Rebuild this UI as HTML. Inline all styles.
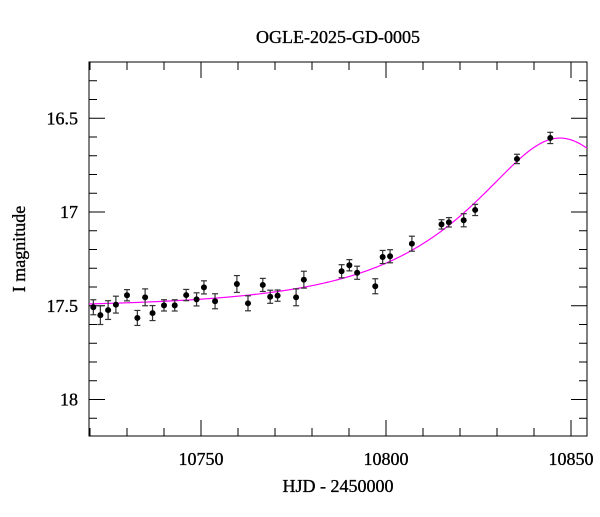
<!DOCTYPE html>
<html><head><meta charset="utf-8"><style>
html,body{margin:0;padding:0;background:#fff;}
svg text{font-family:"Liberation Serif",serif;fill:#000;stroke:#000;stroke-width:0.35;}
</style></head><body>
<svg width="600" height="512" xmlns="http://www.w3.org/2000/svg">
<text x="338" y="43" font-size="18" text-anchor="middle">OGLE-2025-GD-0005</text>
<text x="338" y="492" font-size="18" text-anchor="middle">HJD - 2450000</text>
<text transform="translate(25,249) rotate(-90)" font-size="18" text-anchor="middle">I magnitude</text>
<rect x="89" y="62" width="498" height="374" fill="none" stroke="#000" stroke-width="1"/>
<g id="ticks"></g>
<g id="model"></g>
<g id="points"></g>
</svg>
<script>
const times=[10720.9,10722.8,10724.9,10727.0,10730.0,10732.8,10734.9,10736.9,10740.0,10742.9,10746.0,10748.8,10750.8,10753.8,10759.7,10762.7,10766.7,10768.7,10770.7,10775.7,10777.8,10788.0,10790.1,10792.2,10797.1,10799.1,10801.1,10807.0,10815.0,10817.0,10821.0,10824.1,10835.4,10844.4];
const mags=[17.508,17.55,17.523,17.494,17.444,17.565,17.455,17.539,17.498,17.498,17.443,17.466,17.402,17.476,17.384,17.487,17.389,17.452,17.446,17.455,17.361,17.316,17.284,17.324,17.396,17.24,17.236,17.169,17.066,17.055,17.044,16.989,16.717,16.605];
const errs=[0.04,0.05,0.05,0.045,0.03,0.04,0.045,0.04,0.03,0.03,0.03,0.035,0.035,0.04,0.045,0.04,0.035,0.035,0.03,0.045,0.045,0.035,0.03,0.035,0.04,0.035,0.035,0.04,0.025,0.025,0.035,0.03,0.025,0.03];
const xTicksMajor=[10750,10800,10850];
const yTicksMajor=[16.5,17,17.5,18];
const modelParams=[10847,0.47,44,17.51]; // t0, u0, tE, baseline
const X=t=>201+(t-10750)*3.7;
const Y=m=>212+(m-17)*187.5;
const NS="http://www.w3.org/2000/svg";
function mk(tag,attrs,parent){const e=document.createElementNS(NS,tag);for(const k in attrs)e.setAttribute(k,attrs[k]);parent.appendChild(e);return e;}
const tg=document.getElementById('ticks');
for(let t=10720;t<=10850;t+=10){const maj=xTicksMajor.includes(t);const L=maj?16:8;
 let a=mk('line',{x1:X(t),x2:X(t),y1:436,y2:436-L,stroke:'#000'},tg);
 
 
 let b=mk('line',{x1:X(t),x2:X(t),y1:62,y2:62+L,stroke:'#000'},tg);
 
 }
xTicksMajor.forEach(t=>{const tx=mk('text',{x:X(t),y:465,'font-size':18,'text-anchor':'middle'},tg);tx.textContent=t;
 
 });
for(let i=0;i<=19;i++){const m=16.2+i*0.1;const mm=Math.round(m*10)/10;const maj=yTicksMajor.includes(mm);const L=maj?16:8;
 const y=Y(mm);if(y<62||y>436)continue;
 let a=mk('line',{x1:89,x2:89+L,y1:y,y2:y,stroke:'#000'},tg);
 
 
 let b=mk('line',{x1:587,x2:587-L,y1:y,y2:y,stroke:'#000'},tg);
 
 }
yTicksMajor.forEach(m=>{const tx=mk('text',{x:78,y:Y(m)+6,'font-size':18,'text-anchor':'end'},tg);tx.textContent=(m===17||m===18)?String(m):m.toFixed(1);
 
 });
const [t0,u0,tE,base]=modelParams;let d='';
for(let px=89;px<=587;px+=1){const t=10750+(px-201)/3.7;const u=Math.sqrt(u0*u0+((t-t0)/tE)**2);
 const A=(u*u+2)/(u*Math.sqrt(u*u+4));const m=base-2.5*Math.log10(A);d+=(d?'L':'M')+px+','+Y(m).toFixed(2);}
const mp=mk('path',{d:d,fill:'none',stroke:'#ff00ff','stroke-width':1.2},document.getElementById('model'));


const pg=document.getElementById('points');
times.forEach((t,i)=>{const x=X(t),y=Y(mags[i]),y1=Y(mags[i]-errs[i]),y2=Y(mags[i]+errs[i]);
 const g=mk('g',{},pg);
 
 
 mk('line',{x1:x,x2:x,y1:y1,y2:y2,stroke:'#333','stroke-width':1.2},g);
 mk('line',{x1:x-3,x2:x+3,y1:y1,y2:y1,stroke:'#333','stroke-width':1.2},g);
 mk('line',{x1:x-3,x2:x+3,y1:y2,y2:y2,stroke:'#333','stroke-width':1.2},g);
 mk('circle',{cx:x,cy:y,r:3,fill:'#000'},g);});
</script>
</body></html>
